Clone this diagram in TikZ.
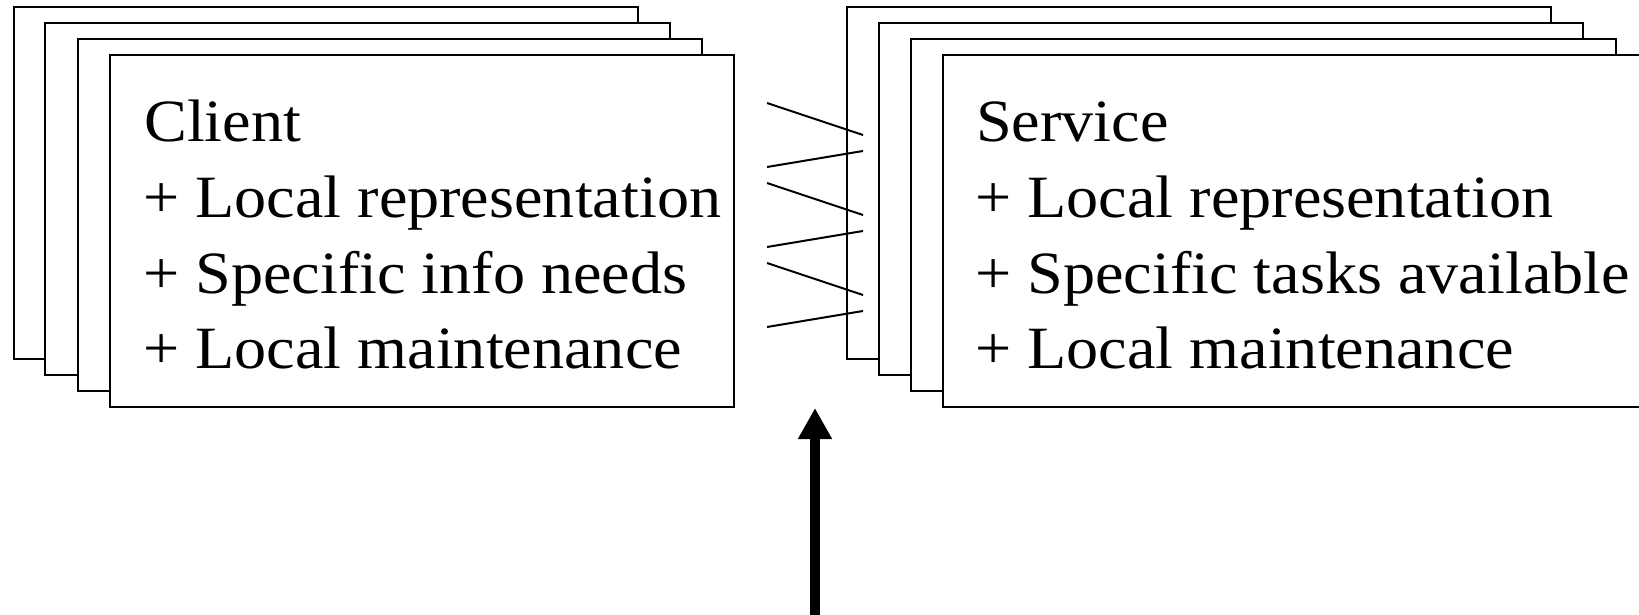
\documentclass[tikz,border=0pt]{standalone}
\usepackage{fontspec}
\setmainfont{Liberation Serif}[FakeStretch=1.07]
\usetikzlibrary{arrows.meta}
\tikzset{
  card/.style={draw=black, fill=white, line width=2pt},
  entry/.style={anchor=base west, inner sep=0pt, font=\fontsize{60}{72}\selectfont},
  link/.style={draw=black, line width=2pt},
  bigarrow/.style={draw=black, line width=10pt, -{Triangle[width=32pt,length=31pt]}}
}
\begin{document}
\begin{tikzpicture}[x=1pt,y=-1pt]
\useasboundingbox (0,0) rectangle (1639,614);
\clip (0,0) rectangle (1639,614);

% client stack, back to front
\draw[card] (14,7) rectangle (638,359);
\draw[card] (45,23) rectangle (670,375);
\draw[card] (78,39) rectangle (702,391);
\draw[card] (110,55) rectangle (734,407);

% service stack, back to front
\draw[card] (847,7) rectangle (1551,359);
\draw[card] (879,23) rectangle (1583,375);
\draw[card] (911,39) rectangle (1616,391);
\draw[card] (943,55) rectangle (1665,407);

% client text
\node[entry] (c1) at (144,141) {Client};
\node[entry] (c2) at (143,217) {+ Local representation};
\node[entry] (c3) at (143,293) {+ Specific info needs};
\node[entry] (c4) at (143,368) {+ Local maintenance};

% service text
\node[entry] (s1) at (976,141) {Service};
\node[entry] (s2) at (975,217) {+ Local representation};
\node[entry] (s3) at (975,293) {+ Specific tasks available};
\node[entry] (s4) at (975,368) {+ Local maintenance};

% zig-zag links between the stacks
\coordinate (l1) at (767,103);  \coordinate (r1) at (863,135);
\coordinate (l2) at (767,167);  \coordinate (r2) at (863,151);
\coordinate (l3) at (767,183);  \coordinate (r3) at (863,215);
\coordinate (l4) at (767,247);  \coordinate (r4) at (863,231);
\coordinate (l5) at (767,263);  \coordinate (r5) at (863,295);
\coordinate (l6) at (767,327);  \coordinate (r6) at (863,311);
\foreach \i in {1,...,6} {\draw[link] (l\i) -- (r\i);}

% upward arrow
\coordinate (abase) at (815,620);
\coordinate (atip) at (815,408);
\draw[bigarrow] (abase) -- (atip);
\end{tikzpicture}
\end{document}
